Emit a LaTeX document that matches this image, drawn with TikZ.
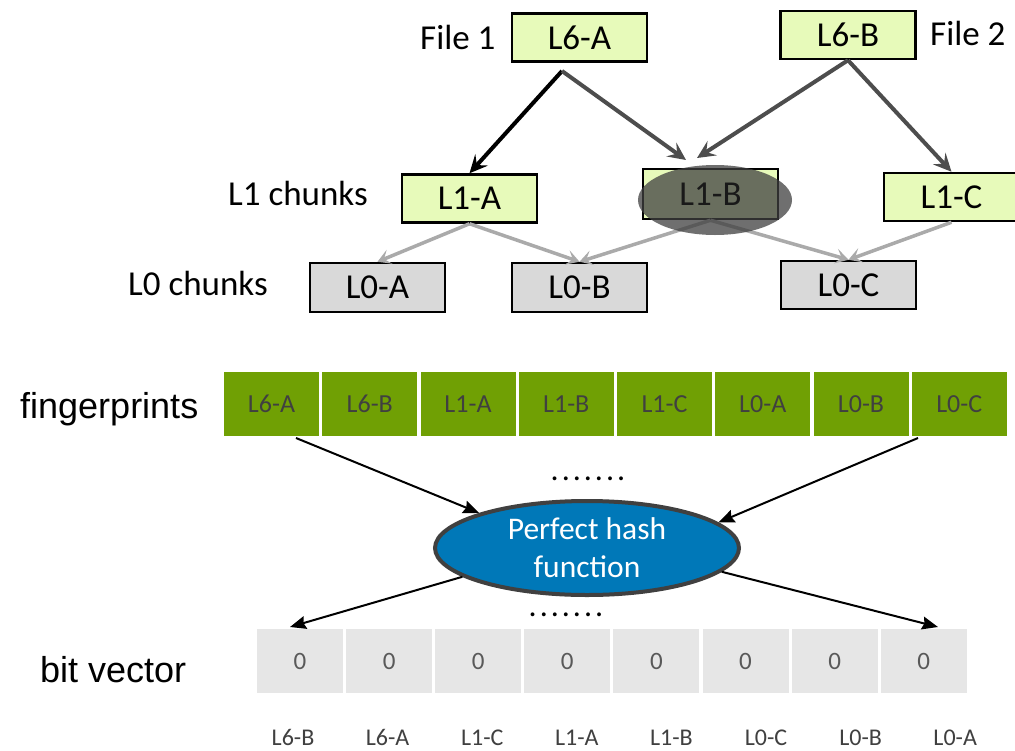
\documentclass[tikz,border=0pt]{standalone}
\usepackage{fontspec}
\setmainfont{Carlito}
\newfontfamily\arl{Liberation Sans}
\usetikzlibrary{arrows.meta,shapes.geometric}
\definecolor{lgreen}{RGB}{231,250,186}
\definecolor{lgrey}{RGB}{217,217,217}
\definecolor{fpgreen}{RGB}{112,160,4}
\definecolor{bvgrey}{RGB}{230,230,230}
\definecolor{hashblue}{RGB}{0,120,184}
\definecolor{dgrey}{RGB}{77,77,77}
\definecolor{edgeg}{RGB}{64,64,64}
\definecolor{lineg}{RGB}{170,170,170}
\definecolor{bvtext}{RGB}{89,89,89}
\definecolor{darktext}{RGB}{25,25,25}
\newcommand\dotrow{.\kern3pt.\kern3pt.\kern3pt.\kern3pt.\kern3pt.\kern3pt.}
\tikzset{
 chunk/.style={draw=black, line width=2.5pt, minimum width=135pt, minimum height=48pt, inner sep=0pt, font=\fontsize{35}{40}\selectfont},
 lone/.style={chunk, fill=lgreen},
 lzero/.style={chunk, fill=lgrey},
 lbl/.style={anchor=base west, font=\fontsize{35}{40}\selectfont, inner sep=0pt},
 big/.style={anchor=base west, font=\arl\fontsize{36}{40}\selectfont, inner sep=0pt},
 fpcell/.style={fill=fpgreen, minimum width=95pt, minimum height=64pt, inner sep=0pt, text=edgeg, font=\fontsize{26}{30}\selectfont},
 bvcell/.style={fill=bvgrey, minimum width=86pt, minimum height=64pt, inner sep=0pt, text=bvtext, font=\fontsize{25}{28}\selectfont},
 bvlbl/.style={anchor=base, inner sep=0pt, text=edgeg, font=\fontsize{24}{28}\selectfont},
 toparrow/.style={line width=4pt, -{Stealth[length=18pt,width=17pt,inset=7pt]}},
 greyarrow/.style={line width=3.5pt, draw=lineg, -{Stealth[length=13pt,width=15pt,inset=6pt]}},
 hasharrow/.style={line width=2pt, -{Stealth[length=16pt,width=13pt,inset=2pt]}},
 dotsty/.style={anchor=base, font=\fontsize{32}{32}\selectfont, inner sep=0pt}
}
\begin{document}
\begin{tikzpicture}[x=1pt,y=-1pt]
\useasboundingbox (0,0) rectangle (1015,750);
\fill[white] (0,0) rectangle (1015,750);

% top tree
\node[lone] (L6A) at (579.5,37.5) {L6-A};
\node[lone] (L6B) at (848,35) {L6-B};
\node[lone] (L1A) at (469.5,198.5) {L1-A};
\node[lone, minimum height=50pt] (L1B) at (710.5,194) {};
\node[lone] (L1C) at (951.5,197) {L1-C};
\node[lzero, minimum height=49pt] (L0A) at (377.5,287.5) {L0-A};
\node[lzero, minimum height=49pt] (L0B) at (579.5,287.5) {L0-B};
\node[lzero] (L0C) at (848.5,285) {L0-C};

\node[lbl] (f1) at (420,49) {File 1};
\node[lbl] (f2) at (930,45) {File 2};
\node[lbl] (c1) at (228,205) {L1 chunks};
\node[lbl] (c0) at (128,295) {L0 chunks};

\draw[greyarrow] (L1A.south) -- (L0A.north);
\draw[greyarrow] (L1A.south) -- (L0B.north);
\draw[greyarrow] (L1B.south) -- (L0B.north);
\draw[greyarrow] (L1B.south) -- (L0C.north);
\draw[greyarrow] (L1C.south) -- (L0C.north);

\node[ellipse, fill=edgeg, fill opacity=0.75, minimum width=154pt, minimum height=70pt, inner sep=0pt] (hl) at (715,200) {};
\node[inner sep=0pt, text=darktext, font=\fontsize{35}{40}\selectfont] (L1Bt) at (L1B.center) {L1-B};

\coordinate (s1) at (562,71);
\coordinate (t1) at (686,160);
\coordinate (t2) at (697,158);
\draw[toparrow, draw=black] (s1) -- (L1A.north);
\draw[toparrow, draw=dgrey] (s1) -- (t1);
\draw[toparrow, draw=dgrey] (L6B.south) -- (t2);
\draw[toparrow, draw=dgrey] (L6B.south) -- (L1C.north);

% fingerprints
\node[big] (fpl) at (20,418) {fingerprints};
\foreach \t [count=\i from 0] in {L6-A,L6-B,L1-A,L1-B,L1-C,L0-A,L0-B,L0-C}
  \node[fpcell] (fp\i) at ({224+98.25*\i+47.5},404) {\t};

% hash
\node[ellipse, draw=edgeg, line width=4pt, fill=hashblue, minimum width=304pt, minimum height=94pt, inner sep=0pt, text=white, align=center, font=\fontsize{31.5}{38}\selectfont] (ph) at (587,548) {Perfect hash\\function};
\node[dotsty] (d1) at (588,480) {\dotrow};
\node[dotsty] (d2) at (566,616) {\dotrow};

\coordinate (a1) at (296,438);
\coordinate (a2) at (918,438);
\draw[hasharrow] (a1) -- (ph.162);
\draw[hasharrow] (a2) -- (ph.11);

% bit vector
\node[big] (bvl) at (40,682) {bit vector};
\foreach \i in {0,...,7}
  \node[bvcell] (bv\i) at ({257+89.1*\i+43},661) {0};
\foreach \t [count=\i from 0] in {L6-B,L6-A,L1-C,L1-A,L1-B,L0-C,L0-B,L0-A}
  \node[bvlbl] (lb\i) at ({293+94.6*\i},745) {\t};

\coordinate (b1) at (290,627);
\coordinate (b2) at (938,627);
\draw[hasharrow] (ph.193) -- (b1);
\draw[hasharrow] (ph.350) -- (b2);
\end{tikzpicture}
\end{document}
